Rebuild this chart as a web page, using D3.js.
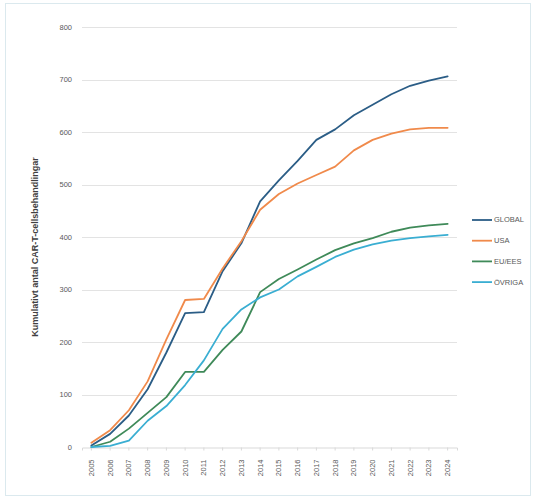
<!DOCTYPE html>
<html>
<head>
<meta charset="utf-8">
<script src="https://cdn.jsdelivr.net/npm/d3@7"></script>
<style>
  html, body { margin: 0; padding: 0; background: #fff; }
  svg { display: block; font-family: "Liberation Sans", Arial, sans-serif; }
</style>
</head>
<body>
<svg id="chart" width="536" height="500"></svg>
<script>
// Years on the category axis
const years = ["2005","2006","2007","2008","2009","2010","2011","2012","2013","2014",
               "2015","2016","2017","2018","2019","2020","2021","2022","2023","2024"];

// Cumulative counts per series
const globalVals = [3, 25, 60, 110, 180, 255, 257, 335, 388, 468, 508, 545, 585, 605, 632, 652, 672, 688, 698, 706];
const usaVals    = [8, 32, 70, 125, 205, 280, 282, 340, 392, 452, 482, 502, 518, 534, 565, 585, 597, 605, 608, 608];
const euVals     = [0, 10, 35, 65, 95, 143, 143, 185, 220, 295, 320, 338, 357, 375, 388, 398, 410, 418, 422, 425];
const otherVals  = [0, 2, 12, 50, 78, 118, 165, 225, 262, 285, 300, 325, 343, 362, 376, 386, 393, 398, 401, 404];

const seriesNames = ["GLOBAL", "USA", "EU/EES", "ÖVRIGA"];
const seriesColors = ["#2b5d86", "#f08a4b", "#3f8a59", "#3aaed2"];
const yTicks = [0, 100, 200, 300, 400, 500, 600, 700, 800];
const yTitle = "Kumulativt antal CAR-T-cellsbehandlingar";

const seriesData = [globalVals, usaVals, euVals, otherVals];

const svg = d3.select("#chart");

// Chart frame
svg.append("rect")
  .attr("x", 5.5).attr("y", 3.5)
  .attr("width", 525).attr("height", 492)
  .attr("fill", "#fff")
  .attr("stroke", "#dbe9ee")
  .attr("stroke-width", 1);

const plot = { left: 82, right: 457, top: 27, bottom: 447 };

const x = d3.scaleBand()
  .domain(years)
  .range([plot.left, plot.right]);

const y = d3.scaleLinear()
  .domain([0, 800])
  .range([plot.bottom, plot.top]);

// Horizontal gridlines
svg.append("g")
  .selectAll("line")
  .data(yTicks.filter(t => t > 0))
  .join("line")
  .attr("x1", plot.left).attr("x2", plot.right)
  .attr("y1", d => Math.round(y(d)) + 0.5)
  .attr("y2", d => Math.round(y(d)) + 0.5)
  .attr("stroke", "#e3e3e3")
  .attr("stroke-width", 1);

// Y axis labels
const yAxis = d3.axisLeft(y).tickValues(yTicks).tickSize(0).tickPadding(10);
const yg = svg.append("g")
  .attr("transform", `translate(${plot.left},0)`)
  .call(yAxis);
yg.select(".domain").remove();
yg.selectAll("text")
  .attr("fill", "#595959")
  .attr("font-size", "7.5px")
  .attr("font-family", "Liberation Sans, Arial, sans-serif");

// X axis with rotated year labels
const xAxis = d3.axisBottom(x).tickSize(3).tickPadding(4);
const xg = svg.append("g")
  .attr("transform", `translate(0,${Math.round(y(0)) + 0.5})`)
  .call(xAxis);
xg.select(".domain").attr("stroke", "#d9d9d9");
xg.selectAll(".tick line").attr("stroke", "#d9d9d9");
xg.selectAll("text")
  .attr("fill", "#595959")
  .attr("font-size", "7.5px")
  .attr("font-family", "Liberation Sans, Arial, sans-serif")
  .attr("transform", "rotate(-90)")
  .attr("text-anchor", "end")
  .attr("dx", "-6")
  .attr("dy", "-0.45em")
  .attr("x", 0).attr("y", 0)
  .each(function() {
    d3.select(this).attr("dy", "0.32em").attr("x", -6);
  });

// Y axis title
svg.append("text")
  .attr("transform", `translate(38,${(plot.top + plot.bottom) / 2 + 10}) rotate(-90)`)
  .attr("text-anchor", "middle")
  .attr("fill", "#404040")
  .attr("font-size", "9px")
  .attr("font-weight", "bold")
  .text(yTitle);

// Series lines
const line = d3.line()
  .x((d, i) => x(years[i]) + x.bandwidth() / 2)
  .y(d => y(d));

svg.append("g")
  .selectAll("path")
  .data(seriesData)
  .join("path")
  .attr("d", d => line(d))
  .attr("fill", "none")
  .attr("stroke", (d, i) => seriesColors[i])
  .attr("stroke-width", 1.8)
  .attr("stroke-linejoin", "round")
  .attr("stroke-linecap", "round");

// Legend
const legend = svg.append("g")
  .attr("transform", "translate(472,220)");
const items = legend.selectAll("g")
  .data(seriesNames)
  .join("g")
  .attr("transform", (d, i) => `translate(0,${i * 20.7})`);
items.append("line")
  .attr("x1", 0).attr("x2", 20)
  .attr("y1", 0).attr("y2", 0)
  .attr("stroke", (d, i) => seriesColors[i])
  .attr("stroke-width", 1.8);
items.append("text")
  .attr("x", 22).attr("y", 0)
  .attr("dy", "0.32em")
  .attr("fill", "#595959")
  .attr("font-size", "7.5px")
  .text(d => d);
</script>
</body>
</html>
